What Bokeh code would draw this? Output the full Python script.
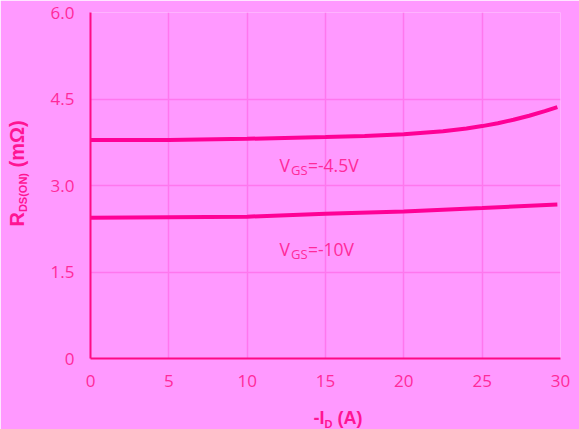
import math
from bokeh.plotting import figure
from bokeh.models import Label, FixedTicker, NumeralTickFormatter, Range1d
from bokeh.core.properties import value
from bokeh.embed import file_html
from bokeh.resources import INLINE

# ---- data ----
x_ticks = [0, 5, 10, 15, 20, 25, 30]
y_ticks = [0, 1.5, 3.0, 4.5, 6.0]

id_45 = [0, 5, 10, 15, 17.5, 20, 22.5, 24, 25, 26, 27, 28, 29, 29.8]
rds_45 = [3.79, 3.79, 3.81, 3.84, 3.86, 3.89, 3.94, 3.99, 4.03, 4.08, 4.14, 4.21, 4.29, 4.36]

id_10 = [0, 5, 10, 15, 20, 25, 29.8]
rds_10 = [2.44, 2.45, 2.46, 2.51, 2.55, 2.61, 2.67]

BG = "#ff99ff"
GRID = "#ff77ee"
AXIS = "#ff0a85"
CURVE = "#ff0096"
TXT = "#ff2a9a"
LBL = "#ff1493"

p = figure(width=579, height=429, output_backend="svg", toolbar_location=None,
           x_range=Range1d(0, 30), y_range=Range1d(0, 6),
           min_border_left=90, min_border_right=19, min_border_top=12, min_border_bottom=71)
p.background_fill_color = BG
p.border_fill_color = BG
p.outline_line_color = None

p.xaxis.ticker = FixedTicker(ticks=x_ticks)
p.yaxis.ticker = FixedTicker(ticks=y_ticks)
p.yaxis.formatter = NumeralTickFormatter(format="0.0")
p.yaxis.major_label_overrides = {0: "0"}

for ax in (p.xaxis, p.yaxis):
    ax.axis_line_color = AXIS
    ax.axis_line_width = 2
    ax.major_tick_line_color = None
    ax.minor_tick_line_color = None
    ax.major_label_text_font = "Open Sans"
    ax.major_label_text_font_size = "17px"
    ax.major_label_text_color = TXT
p.xaxis.major_label_standoff = 10
p.yaxis.major_label_standoff = 10

for g in (p.xgrid, p.ygrid):
    g.grid_line_color = GRID
    g.grid_line_width = 1.5

p.line(id_45, rds_45, line_color=CURVE, line_width=4)
p.line(id_10, rds_10, line_color=CURVE, line_width=4)


def label(text, x, y, size, xo=0, yo=0):
    p.add_layout(Label(x=x, y=y, text=text, x_offset=xo, y_offset=yo,
                       text_font="Open Sans", text_font_size=size,
                       text_color=TXT, text_baseline="alphabetic", text_align="left"))


# curve annotations
for (lx, ly, rest) in [(12.06, 3.24, "=-4.5V"), (12.06, 1.79, "=-10V")]:
    label("V", lx, ly, "17.5px", yo=6.3)
    label("GS", lx, ly, "13px", xo=11.5, yo=1.7)
    label(rest, lx, ly, "17.5px", xo=28.5, yo=6.3)


def title_piece(t, x, y, size, angle=0):
    # overlay-level text so that it may sit outside the plot frame
    p.text(x=[x], y=[y], text=[t], angle=angle, level="overlay",
           text_font=value("Liberation Sans"), text_font_style="bold",
           text_font_size=size, text_color=LBL,
           text_baseline="alphabetic", text_align="left")


# y-axis title  R_DS(ON) (mΩ), reading upward
a = math.pi / 2
title_piece("R", -4.67, 2.289, "20px", a)
title_piece("DS(ON)", -4.34, 2.539, "11px", a)
title_piece("(mΩ)", -4.67, 3.314, "20px", a)

# x-axis title  -I_D (A)
title_piece("-I", 14.234, -1.032, "18px")
title_piece("D", 14.936, -1.128, "11px")
title_piece("(A)", 15.766, -1.032, "18px")

open("out.html", "w").write(file_html(p, INLINE))
